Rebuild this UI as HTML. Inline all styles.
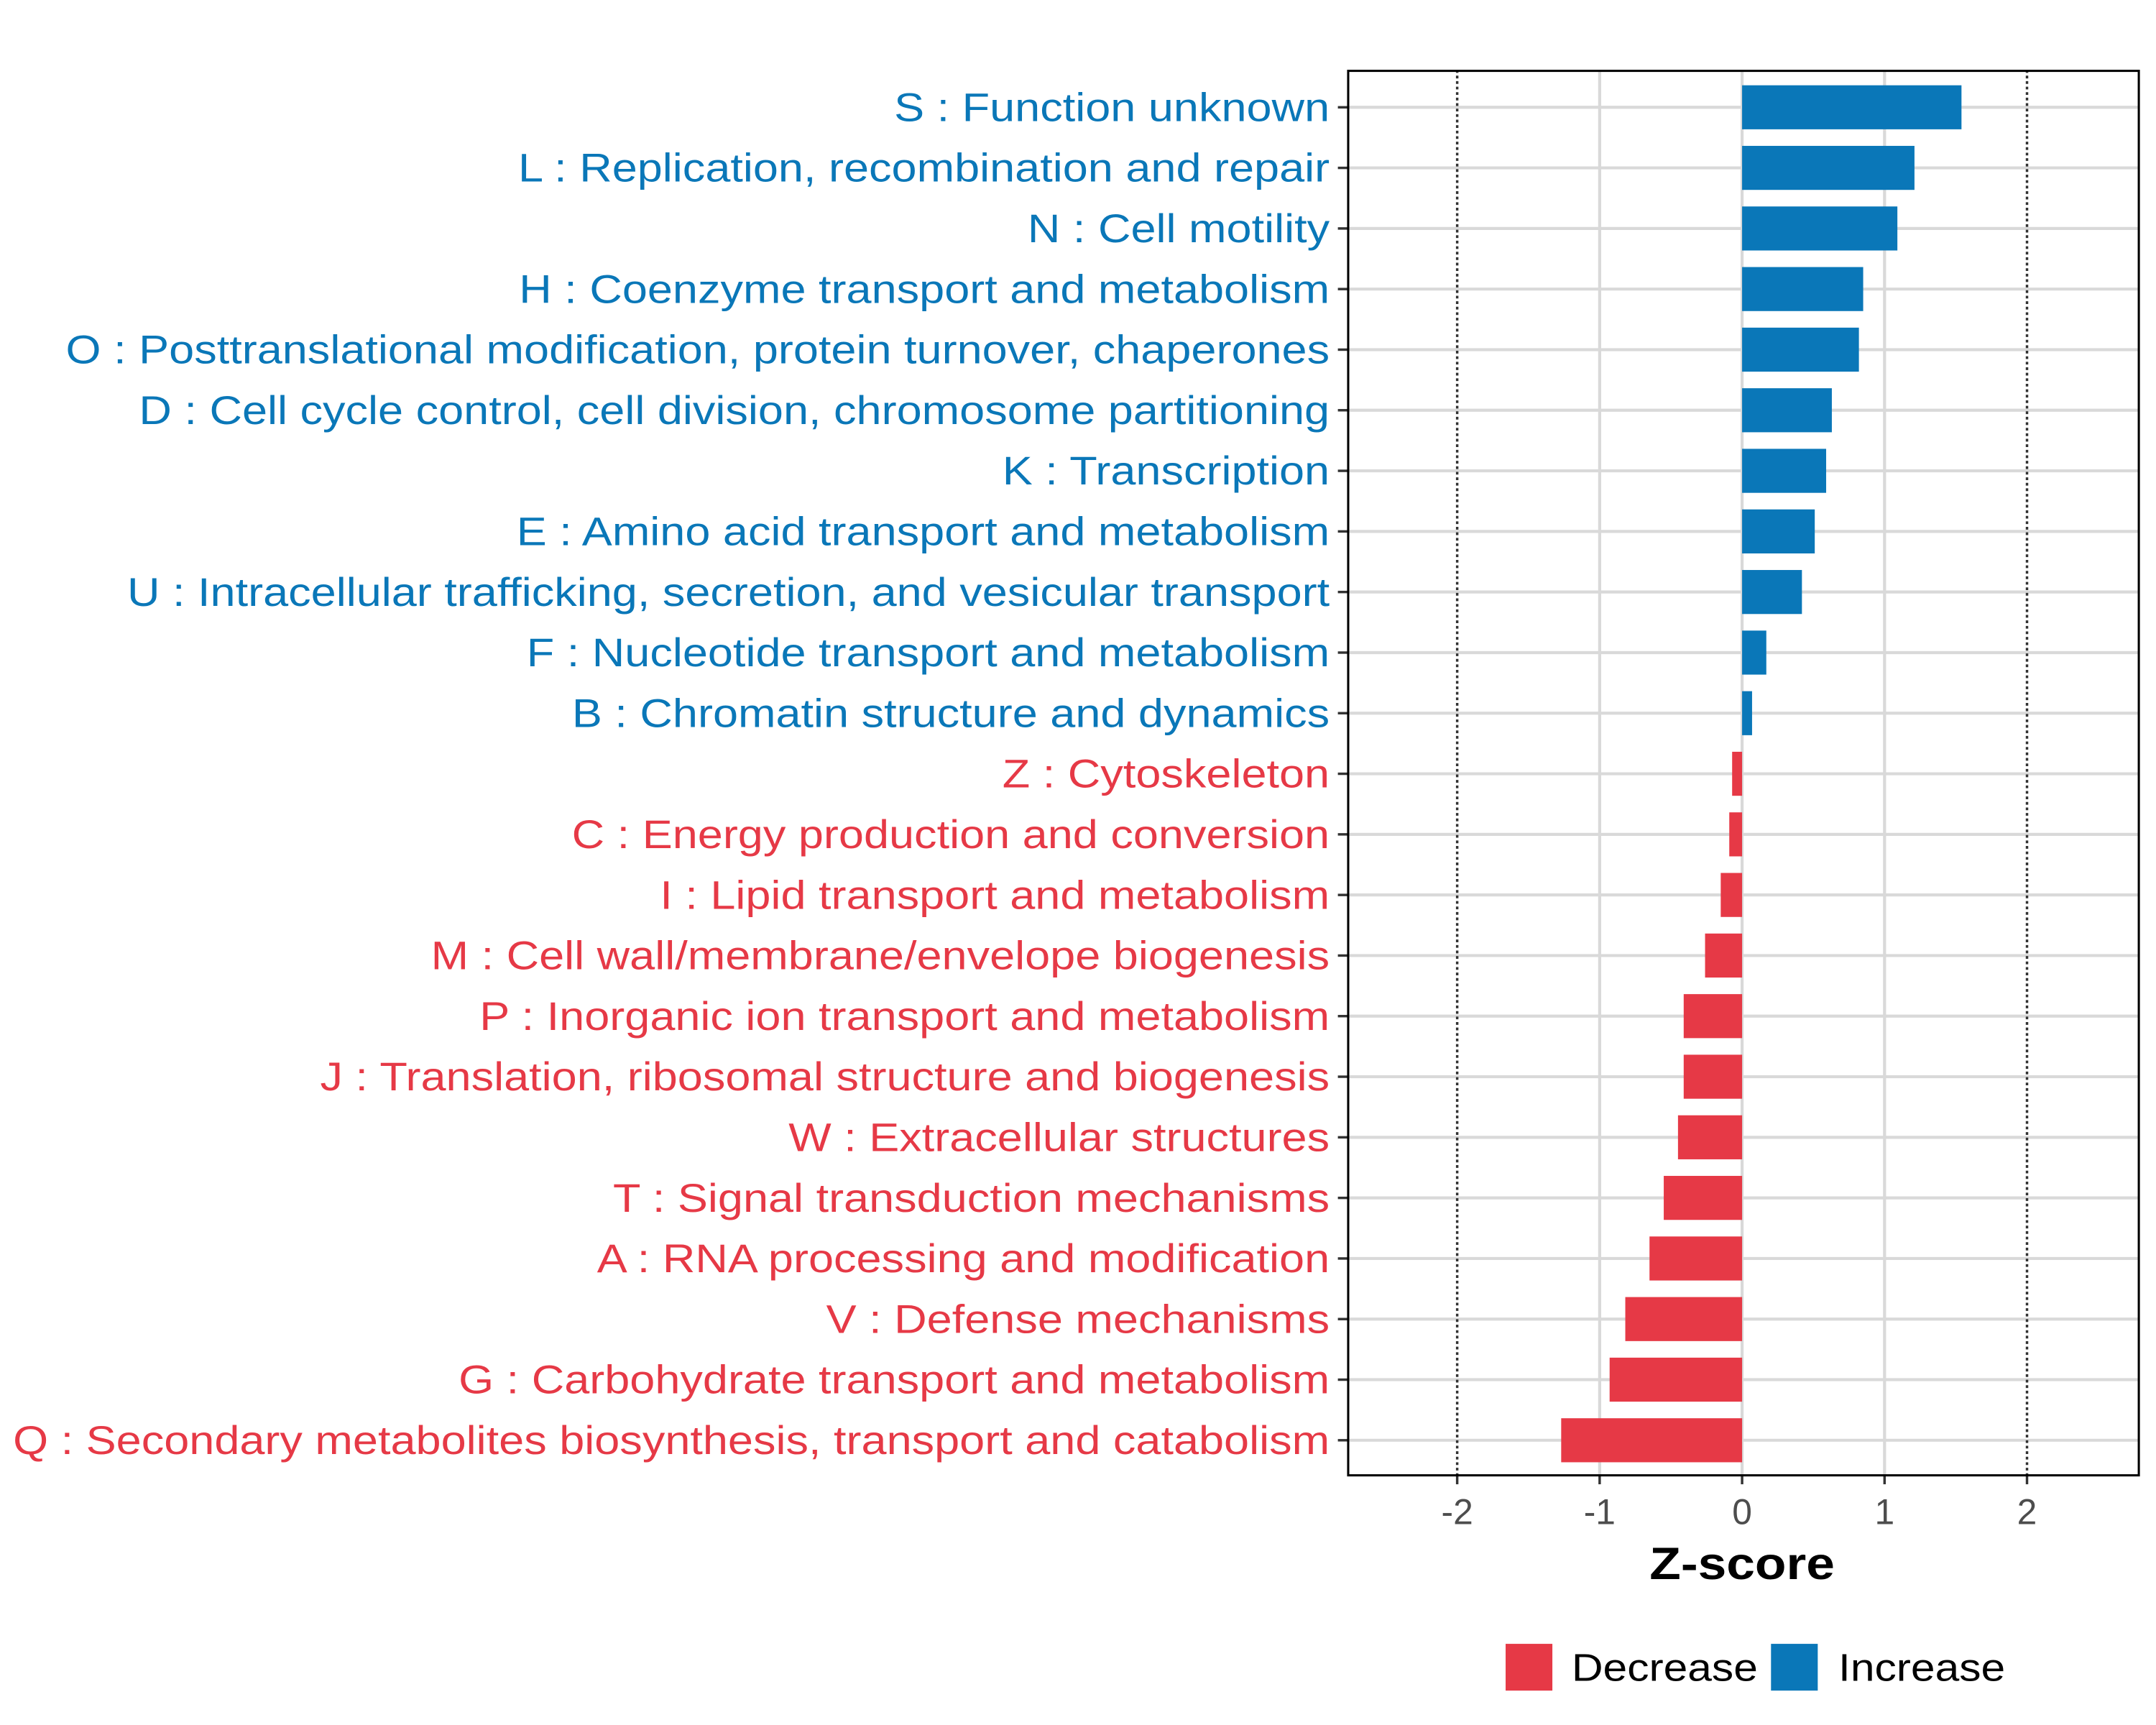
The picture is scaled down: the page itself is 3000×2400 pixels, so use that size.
<!DOCTYPE html>
<html><head><meta charset="utf-8"><style>
html,body{margin:0;padding:0;background:#fff;}
svg{display:block;font-family:"Liberation Sans",Arial,sans-serif;}
</style></head><body>
<svg id="chart" width="3000" height="2400" viewBox="0 0 1568 1254" preserveAspectRatio="none" xmlns="http://www.w3.org/2000/svg">
<rect x="0" y="0" width="1568" height="1254" fill="#fff"/>
<g id="grid"></g>
<g id="bars"></g>
<g id="labels"></g>
<g id="xaxis"></g>
<rect x="980.5" y="51.5" width="575" height="1021" fill="none" stroke="#000" stroke-width="1.6"/>
<text class="st" x="1267" y="1148" font-size="33" font-weight="bold" text-anchor="middle">Z-score</text>
<g>
<rect x="1095" y="1195" width="34" height="34" fill="#e63946"/>
<text class="st" x="1143" y="1222" font-size="28">Decrease</text>
<rect x="1288" y="1195" width="34" height="34" fill="#0a77b8"/>
<text class="st" x="1337" y="1222" font-size="28">Increase</text>
</g>
</svg>
<script>
const categories = ["S : Function unknown","L : Replication, recombination and repair","N : Cell motility","H : Coenzyme transport and metabolism","O : Posttranslational modification, protein turnover, chaperones","D : Cell cycle control, cell division, chromosome partitioning","K : Transcription","E : Amino acid transport and metabolism","U : Intracellular trafficking, secretion, and vesicular transport","F : Nucleotide transport and metabolism","B : Chromatin structure and dynamics","Z : Cytoskeleton","C : Energy production and conversion","I : Lipid transport and metabolism","M : Cell wall/membrane/envelope biogenesis","P : Inorganic ion transport and metabolism","J : Translation, ribosomal structure and biogenesis","W : Extracellular structures","T : Signal transduction mechanisms","A : RNA processing and modification","V : Defense mechanisms","G : Carbohydrate transport and metabolism","Q : Secondary metabolites biosynthesis, transport and catabolism"];
const zscores = [1.54,1.21,1.09,0.85,0.82,0.63,0.59,0.51,0.42,0.17,0.07,-0.07,-0.09,-0.15,-0.26,-0.41,-0.41,-0.45,-0.55,-0.65,-0.82,-0.93,-1.27];
const xTicks = [-2,-1,0,1,2];
const xTickLabels = ["-2","-1","0","1","2"];

const NS="http://www.w3.org/2000/svg";
const X0=980,X1=1555,Y0=51,Y1=1072;
const xMin=-2.77,xMax=2.78;
function xs(v){return X0+(v-xMin)/(xMax-xMin)*(X1-X0);}
const n=categories.length;
const rowStep=(1047-78)/(n-1);
function ys(i){return 78+i*rowStep;}
function mk(tag,attrs,parent){const e=document.createElementNS(NS,tag);for(const k in attrs)e.setAttribute(k,attrs[k]);parent.appendChild(e);return e;}
function stretch(t,f){const w=t.getComputedTextLength();t.setAttribute('textLength',w*f);t.setAttribute('lengthAdjust','spacingAndGlyphs');}
const grid=document.getElementById('grid'),bars=document.getElementById('bars'),labels=document.getElementById('labels'),xaxis=document.getElementById('xaxis');
for(let i=0;i<n;i++){
  const l=mk('line',{x1:X0,x2:X1,y1:ys(i),y2:ys(i),stroke:'#d9d9d9','stroke-width':2.2},grid);
  
  
}
xTicks.forEach(t=>{
  const dotted=Math.abs(t)===2;
  const l=mk('line',{x1:xs(t),x2:xs(t),y1:Y0,y2:Y1,stroke:dotted?'#333':'#d9d9d9','stroke-width':dotted?1.8:2.2,'stroke-dasharray':dotted?'2,2':'none'},grid);
  
  
});
for(let i=0;i<n;i++){
  const v=zscores[i],col=v>=0?'#0a77b8':'#e63946';
  const x=Math.min(xs(0),xs(v)),w=Math.abs(xs(v)-xs(0));
  const r=mk('rect',{x:x,y:ys(i)-16,width:w,height:32,fill:col},bars);
  
  
  const t=mk('text',{x:967,y:ys(i)+10,'font-size':29,'text-anchor':'end',fill:col},labels);
  t.textContent=categories[i];
  
  
  stretch(t,1.136);
  const tk=mk('line',{x1:973,x2:980,y1:ys(i),y2:ys(i),stroke:'#333','stroke-width':1.8},labels);
  
  
}
xTicks.forEach((t,k)=>{
  const tk=mk('line',{x1:xs(t),x2:xs(t),y1:Y1,y2:Y1+7,stroke:'#333','stroke-width':1.8},xaxis);
  
  
  const tl=mk('text',{x:xs(t),y:1108,'font-size':26,'text-anchor':'middle',fill:'#4d4d4d'},xaxis);
  tl.textContent=xTickLabels[k];
  
  
});
document.querySelectorAll('text.st').forEach(t=>stretch(t,1.13));
</script>
</body></html>
